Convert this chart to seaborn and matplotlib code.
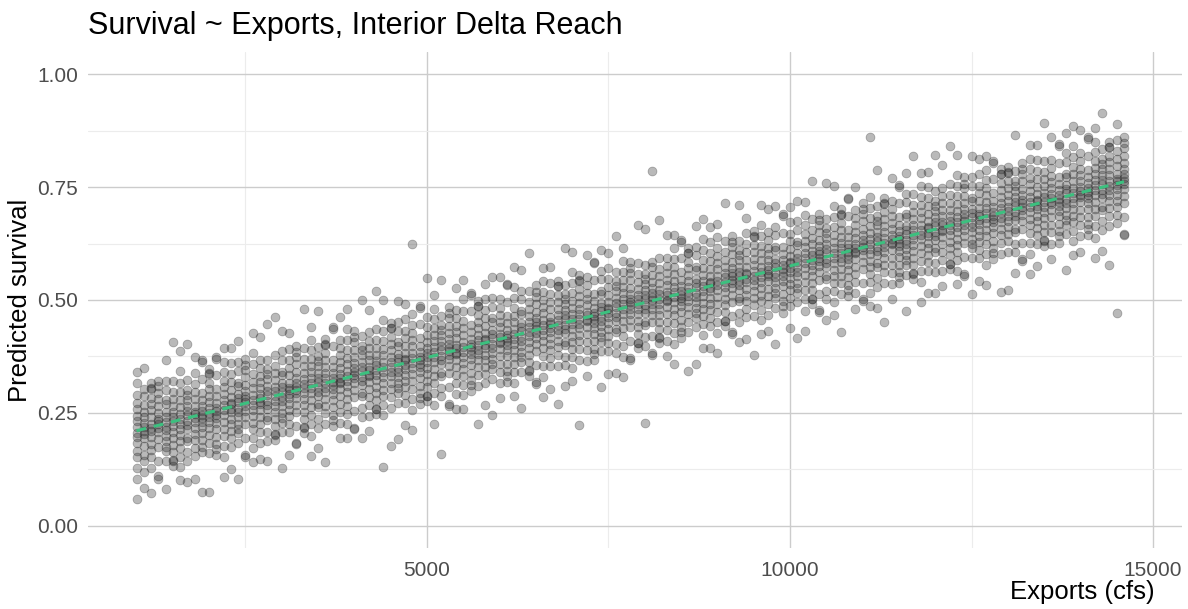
import matplotlib
matplotlib.use("Agg")
import pandas as pd
import matplotlib.pyplot as plt
import seaborn as sns
from matplotlib.ticker import FixedLocator, FormatStrFormatter

title = "Survival ~ Exports, Interior Delta Reach"
x_label = "Exports (cfs)"
y_label = "Predicted survival"
x_ticks = [5000, 10000, 15000]
x_minor = [2500, 7500, 12500]
y_ticks = [0.00, 0.25, 0.50, 0.75, 1.00]
y_minor = [0.125, 0.375, 0.625, 0.875]

survival_columns = [
    (1000, [58, 104, 127, 151, 166, 183, 196, 205, 218, 231, 243, 259, 272, 289, 316, 341]),
    (1100, [83, 119, 142, 157, 176, 194, 203, 210, 218, 228, 240, 251, 267, 286, 302, 349]),
    (1200, [72, 127, 153, 168, 181, 197, 209, 217, 226, 240, 256, 269, 282, 303, 317, 304]),
    (1300, [103, 109, 144, 173, 191, 207, 216, 226, 231, 237, 250, 265, 280, 294, 321, 309]),
    (1400, [82, 142, 165, 174, 187, 199, 212, 219, 230, 241, 252, 269, 300, 321, 367, 278]),
    (1500, [406, 321, 297, 280, 265, 251, 241, 231, 220, 208, 194, 179, 164, 145, 133, 144]),
    (1600, [386, 342, 317, 295, 278, 263, 248, 237, 226, 215, 201, 187, 172, 153, 130, 100]),
    (1700, [402, 322, 301, 290, 279, 265, 254, 245, 232, 223, 214, 195, 162, 143, 97, 188]),
    (1800, [373, 339, 314, 297, 280, 264, 251, 248, 238, 230, 216, 203, 189, 172, 154, 104]),
    (1900, [366, 362, 325, 294, 278, 264, 253, 245, 238, 230, 219, 206, 189, 173, 75, 162]),
    (2000, [75, 160, 184, 201, 216, 230, 240, 250, 261, 273, 287, 302, 317, 336, 348, 337]),
    (2100, [374, 370, 333, 302, 286, 272, 261, 253, 246, 238, 227, 214, 197, 181, 156, 170]),
    (2200, [107, 151, 176, 198, 215, 230, 245, 256, 267, 278, 292, 306, 321, 340, 363, 393]),
    (2300, [394, 360, 335, 318, 301, 285, 272, 269, 259, 251, 237, 224, 210, 193, 175, 125]),
    (2400, [103, 183, 204, 215, 226, 240, 251, 260, 273, 282, 291, 310, 343, 362, 408, 317]),
    (2500, [152, 156, 193, 224, 240, 254, 265, 273, 280, 288, 299, 312, 329, 345, 370, 356]),
    (2600, [427, 383, 358, 336, 319, 304, 289, 278, 267, 256, 242, 228, 213, 194, 171, 141]),
    (2700, [148, 182, 207, 224, 241, 257, 270, 273, 283, 291, 305, 318, 332, 349, 367, 417]),
    (2800, [447, 367, 346, 335, 324, 310, 299, 290, 277, 268, 259, 240, 207, 188, 142, 233]),
    (2900, [463, 378, 354, 337, 322, 308, 298, 288, 277, 265, 251, 236, 221, 202, 190, 201]),
    (3000, [127, 207, 228, 239, 250, 264, 275, 284, 297, 306, 315, 334, 367, 386, 432, 341]),
    (3100, [426, 392, 367, 350, 333, 317, 304, 301, 291, 283, 269, 256, 242, 225, 207, 157]),
    (3200, [180, 184, 221, 252, 268, 282, 293, 301, 308, 316, 327, 340, 357, 373, 398, 384]),
    (3300, [479, 394, 370, 353, 338, 324, 314, 304, 293, 281, 267, 252, 237, 218, 206, 217]),
    (3400, [155, 199, 224, 246, 263, 278, 293, 304, 315, 326, 340, 354, 369, 388, 411, 441]),
    (3500, [476, 396, 375, 364, 353, 339, 328, 319, 306, 297, 288, 269, 236, 217, 171, 262]),
    (3600, [140, 225, 249, 266, 281, 295, 305, 315, 326, 338, 352, 367, 382, 401, 413, 402]),
    (3700, [439, 435, 398, 367, 351, 337, 326, 318, 311, 303, 292, 279, 262, 246, 221, 235]),
    (3800, [193, 227, 252, 269, 286, 302, 315, 318, 328, 336, 350, 363, 377, 394, 412, 462]),
    (3900, [480, 436, 411, 389, 372, 357, 342, 331, 320, 309, 295, 281, 266, 247, 224, 194]),
    (4000, [213, 217, 254, 285, 301, 315, 326, 334, 341, 349, 360, 373, 390, 406, 431, 417]),
    (4100, [500, 420, 399, 388, 377, 363, 352, 343, 330, 321, 312, 293, 260, 241, 195, 286]),
    (4200, [209, 243, 268, 285, 302, 318, 331, 334, 344, 352, 366, 379, 393, 410, 428, 478]),
    (4300, [520, 435, 411, 394, 379, 365, 355, 345, 334, 322, 308, 293, 278, 259, 247, 258]),
    (4400, [500, 456, 431, 409, 392, 377, 362, 351, 340, 329, 315, 301, 286, 267, 244, 130]),
    (4500, [176, 261, 285, 302, 317, 331, 341, 351, 362, 374, 388, 403, 418, 437, 449, 438]),
    (4600, [192, 272, 293, 304, 315, 329, 340, 349, 362, 371, 380, 399, 432, 451, 497, 406]),
    (4700, [491, 457, 432, 415, 398, 382, 369, 366, 356, 348, 334, 321, 307, 290, 272, 222]),
    (4800, [212, 256, 281, 303, 320, 335, 350, 361, 372, 383, 397, 411, 426, 445, 468, 624]),
    (4900, [487, 483, 446, 415, 399, 385, 374, 366, 359, 351, 340, 327, 310, 294, 269, 283]),
    (5000, [548, 463, 439, 422, 407, 393, 383, 373, 362, 350, 336, 321, 306, 287, 275, 286]),
    (5100, [224, 268, 293, 315, 332, 347, 362, 373, 384, 395, 409, 423, 438, 457, 480, 510]),
    (5200, [545, 465, 444, 433, 422, 408, 397, 388, 375, 366, 357, 338, 305, 286, 158, 331]),
    (5300, [266, 270, 307, 338, 354, 368, 379, 387, 394, 402, 413, 426, 443, 459, 484, 470]),
    (5400, [258, 292, 317, 334, 351, 367, 380, 383, 393, 401, 415, 428, 442, 459, 477, 527]),
    (5500, [545, 501, 476, 454, 437, 422, 407, 396, 385, 374, 360, 346, 331, 312, 289, 259]),
    (5600, [516, 512, 475, 444, 428, 414, 403, 395, 388, 380, 369, 356, 339, 323, 298, 312]),
    (5700, [225, 310, 334, 351, 366, 380, 390, 400, 411, 423, 437, 452, 467, 486, 498, 487]),
    (5800, [536, 502, 477, 460, 443, 427, 414, 411, 401, 393, 379, 366, 352, 335, 317, 267]),
    (5900, [245, 325, 346, 357, 368, 382, 393, 402, 415, 424, 433, 452, 485, 504, 550, 459]),
    (6000, [282, 316, 341, 358, 375, 391, 404, 407, 417, 425, 439, 452, 466, 483, 501, 551]),
    (6100, [536, 532, 495, 464, 448, 434, 423, 415, 408, 400, 389, 376, 359, 343, 318, 332]),
    (6200, [573, 529, 504, 482, 465, 450, 435, 424, 413, 402, 388, 374, 359, 340, 317, 287]),
    (6300, [261, 341, 362, 373, 384, 398, 409, 418, 431, 440, 449, 468, 501, 520, 566, 475]),
    (6400, [605, 520, 496, 479, 464, 450, 440, 430, 419, 407, 393, 378, 363, 344, 332, 343]),
    (6500, [314, 318, 355, 386, 402, 416, 427, 435, 442, 450, 461, 474, 491, 507, 532, 518]),
    (6600, [285, 329, 354, 376, 393, 408, 423, 434, 445, 456, 470, 484, 499, 518, 541, 571]),
    (6700, [572, 538, 513, 496, 479, 463, 450, 447, 437, 429, 415, 402, 388, 371, 353, 303]),
    (6800, [269, 354, 378, 395, 410, 424, 434, 444, 455, 467, 481, 496, 511, 530, 542, 531]),
    (6900, [614, 534, 513, 502, 491, 477, 466, 457, 444, 435, 426, 407, 374, 355, 309, 400]),
    (7000, [606, 562, 537, 515, 498, 483, 468, 457, 446, 435, 421, 407, 392, 373, 350, 320]),
    (7100, [222, 367, 391, 408, 423, 437, 447, 457, 468, 480, 494, 509, 524, 543, 555, 544]),
    (7200, [331, 365, 390, 407, 424, 440, 453, 456, 466, 474, 488, 501, 515, 532, 550, 600]),
    (7300, [585, 581, 544, 513, 497, 483, 472, 464, 457, 449, 438, 425, 408, 392, 367, 381]),
    (7400, [306, 386, 407, 418, 429, 443, 454, 463, 476, 485, 494, 513, 546, 565, 611, 520]),
    (7500, [605, 571, 546, 529, 512, 496, 483, 480, 470, 462, 448, 435, 421, 404, 386, 336]),
    (7600, [642, 562, 541, 530, 519, 505, 494, 485, 472, 463, 454, 435, 402, 383, 337, 428]),
    (7700, [330, 374, 399, 421, 438, 453, 468, 479, 490, 501, 515, 529, 544, 563, 586, 616]),
    (7800, [367, 371, 408, 439, 455, 469, 480, 488, 495, 503, 514, 527, 544, 560, 585, 571]),
    (7900, [666, 581, 557, 540, 525, 511, 501, 491, 480, 468, 454, 439, 424, 405, 393, 404]),
    (8000, [658, 578, 557, 546, 535, 521, 510, 501, 488, 479, 470, 451, 418, 399, 228, 444]),
    (8100, [379, 383, 420, 451, 467, 481, 492, 500, 507, 515, 526, 539, 556, 572, 785, 583]),
    (8200, [678, 593, 569, 552, 537, 523, 513, 503, 492, 480, 466, 451, 436, 417, 405, 416]),
    (8300, [375, 409, 434, 451, 468, 484, 497, 500, 510, 518, 532, 545, 559, 576, 594, 644]),
    (8400, [358, 402, 427, 449, 466, 481, 496, 507, 518, 529, 543, 557, 572, 591, 614, 644]),
    (8500, [633, 629, 592, 561, 545, 531, 520, 512, 505, 497, 486, 473, 456, 440, 415, 429]),
    (8600, [343, 428, 452, 469, 484, 498, 508, 518, 529, 541, 555, 570, 585, 604, 616, 605]),
    (8700, [359, 439, 460, 471, 482, 496, 507, 516, 529, 538, 547, 566, 599, 618, 664, 573]),
    (8800, [679, 635, 610, 588, 571, 556, 541, 530, 519, 508, 494, 480, 465, 446, 423, 393]),
    (8900, [662, 628, 603, 586, 569, 553, 540, 537, 527, 519, 505, 492, 478, 461, 443, 393]),
    (9000, [383, 427, 452, 474, 491, 506, 521, 532, 543, 554, 568, 582, 597, 616, 639, 669]),
    (9100, [715, 630, 606, 589, 574, 560, 550, 540, 529, 517, 503, 488, 473, 454, 442, 453]),
    (9200, [424, 428, 465, 496, 512, 526, 537, 545, 552, 560, 571, 584, 601, 617, 642, 628]),
    (9300, [711, 631, 610, 599, 588, 574, 563, 554, 541, 532, 523, 504, 471, 452, 406, 497]),
    (9400, [682, 648, 623, 606, 589, 573, 560, 557, 547, 539, 525, 512, 498, 481, 463, 413]),
    (9500, [379, 464, 488, 505, 520, 534, 544, 554, 565, 577, 591, 606, 621, 640, 652, 641]),
    (9600, [711, 667, 642, 620, 603, 588, 573, 562, 551, 540, 526, 512, 497, 478, 455, 425]),
    (9700, [432, 466, 491, 508, 525, 541, 554, 557, 567, 575, 589, 602, 616, 633, 651, 701]),
    (9800, [403, 483, 504, 515, 526, 540, 551, 560, 573, 582, 591, 610, 643, 662, 708, 617]),
    (9900, [690, 686, 649, 618, 602, 588, 577, 569, 562, 554, 543, 530, 513, 497, 472, 486]),
    (10000, [706, 672, 647, 630, 613, 597, 584, 581, 571, 563, 549, 536, 522, 505, 487, 437]),
    (10100, [415, 495, 516, 527, 538, 552, 563, 572, 585, 594, 603, 622, 655, 674, 720, 629]),
    (10200, [432, 476, 501, 523, 540, 555, 570, 581, 592, 603, 617, 631, 646, 665, 688, 718]),
    (10300, [764, 679, 655, 638, 623, 609, 599, 589, 578, 566, 552, 537, 522, 503, 491, 502]),
    (10400, [473, 477, 514, 545, 561, 575, 586, 594, 601, 609, 620, 633, 650, 666, 691, 677]),
    (10500, [760, 680, 659, 648, 637, 623, 612, 603, 590, 581, 572, 553, 520, 501, 455, 546]),
    (10600, [752, 708, 683, 661, 644, 629, 614, 603, 592, 581, 567, 553, 538, 519, 496, 466]),
    (10700, [428, 513, 537, 554, 569, 583, 593, 603, 614, 626, 640, 655, 670, 689, 701, 690]),
    (10800, [727, 723, 686, 655, 639, 625, 614, 606, 599, 591, 580, 567, 550, 534, 509, 523]),
    (10900, [481, 515, 540, 557, 574, 590, 603, 606, 616, 624, 638, 651, 665, 682, 700, 750]),
    (11000, [497, 501, 538, 569, 585, 599, 610, 618, 625, 633, 644, 657, 674, 690, 715, 701]),
    (11100, [862, 728, 703, 681, 664, 649, 634, 623, 612, 601, 587, 573, 558, 539, 516, 486]),
    (11200, [788, 708, 687, 676, 665, 651, 640, 631, 618, 609, 600, 581, 548, 529, 483, 574]),
    (11300, [452, 537, 561, 578, 593, 607, 617, 627, 638, 650, 664, 679, 694, 713, 725, 714]),
    (11400, [501, 535, 560, 577, 594, 610, 623, 626, 636, 644, 658, 671, 685, 702, 720, 770]),
    (11500, [755, 751, 714, 683, 667, 653, 642, 634, 627, 619, 608, 595, 578, 562, 537, 551]),
    (11600, [476, 556, 577, 588, 599, 613, 624, 633, 646, 655, 664, 683, 716, 735, 781, 690]),
    (11700, [820, 735, 711, 694, 679, 665, 655, 645, 634, 622, 608, 593, 578, 559, 547, 558]),
    (11800, [496, 540, 565, 587, 604, 619, 634, 645, 656, 667, 681, 695, 710, 729, 752, 782]),
    (11900, [784, 750, 725, 708, 691, 675, 662, 659, 649, 641, 627, 614, 600, 583, 565, 515]),
    (12000, [821, 741, 720, 709, 698, 684, 673, 664, 651, 642, 633, 614, 581, 562, 516, 607]),
    (12100, [530, 564, 589, 606, 623, 639, 652, 655, 665, 673, 687, 700, 714, 731, 749, 799]),
    (12200, [841, 756, 732, 715, 700, 686, 676, 666, 655, 643, 629, 614, 599, 580, 568, 579]),
    (12300, [821, 777, 752, 730, 713, 698, 683, 672, 661, 650, 636, 622, 607, 588, 565, 535]),
    (12400, [554, 558, 595, 626, 642, 656, 667, 675, 682, 690, 701, 714, 731, 747, 772, 758]),
    (12500, [513, 593, 614, 625, 636, 650, 661, 670, 683, 692, 701, 720, 753, 772, 818, 727]),
    (12600, [812, 778, 753, 736, 719, 703, 690, 687, 677, 669, 655, 642, 628, 611, 593, 543]),
    (12700, [533, 577, 602, 624, 641, 656, 671, 682, 693, 704, 718, 732, 747, 766, 789, 819]),
    (12800, [808, 804, 767, 736, 720, 706, 695, 687, 680, 672, 661, 648, 631, 615, 590, 604]),
    (12900, [517, 602, 626, 643, 658, 672, 682, 692, 703, 715, 729, 744, 759, 778, 790, 779]),
    (13000, [521, 606, 630, 647, 662, 676, 686, 696, 707, 719, 733, 748, 763, 782, 794, 783]),
    (13100, [865, 785, 764, 753, 742, 728, 717, 708, 695, 686, 677, 658, 625, 606, 560, 651]),
    (13200, [586, 590, 627, 658, 674, 688, 699, 707, 714, 722, 733, 746, 763, 779, 804, 790]),
    (13300, [557, 601, 626, 648, 665, 680, 695, 706, 717, 728, 742, 756, 771, 790, 813, 843]),
    (13400, [844, 810, 785, 768, 751, 735, 722, 719, 709, 701, 687, 674, 660, 643, 625, 575]),
    (13500, [893, 808, 784, 767, 752, 738, 728, 718, 707, 695, 681, 666, 651, 632, 620, 631]),
    (13600, [591, 625, 650, 667, 684, 700, 713, 716, 726, 734, 748, 761, 775, 792, 810, 860]),
    (13700, [845, 841, 804, 773, 757, 743, 732, 724, 717, 709, 698, 685, 668, 652, 627, 641]),
    (13800, [566, 646, 667, 678, 689, 703, 714, 723, 736, 745, 754, 773, 806, 825, 871, 780]),
    (13900, [886, 842, 817, 795, 778, 763, 748, 737, 726, 715, 701, 687, 672, 653, 630, 600]),
    (14000, [607, 641, 666, 683, 700, 716, 729, 732, 742, 750, 764, 777, 791, 808, 826, 876]),
    (14100, [861, 857, 820, 789, 773, 759, 748, 740, 733, 725, 714, 701, 684, 668, 643, 657]),
    (14200, [594, 638, 663, 685, 702, 717, 732, 743, 754, 765, 779, 793, 808, 827, 850, 880]),
    (14300, [914, 834, 813, 802, 791, 777, 766, 757, 744, 735, 726, 707, 674, 655, 609, 700]),
    (14400, [578, 663, 687, 704, 719, 733, 743, 753, 764, 776, 790, 805, 820, 839, 851, 840]),
    (14500, [889, 855, 830, 813, 796, 780, 767, 764, 754, 746, 732, 719, 705, 688, 670, 472]),
    (14600, [643, 647, 684, 715, 731, 745, 756, 764, 771, 779, 790, 803, 820, 836, 861, 847]),
]

rows = [(x, v / 1000) for x, vals in survival_columns for v in vals]
df = pd.DataFrame(rows, columns=["exports", "survival"])

sns.set_theme(style="white")
plt.rcParams["font.family"] = ["Liberation Sans", "DejaVu Sans"]

fig = plt.figure(figsize=(11.88, 6.09), dpi=100)
ax = fig.add_axes([0.074, 0.100, 0.921, 0.815])

# grey translucent points, the ring from the outline mimics ggplot's stroked dots
sns.scatterplot(data=df, x="exports", y="survival", color="#262626", edgecolor="#262626",
                alpha=0.32, s=40, linewidth=0.6, ax=ax, zorder=2)
sns.regplot(data=df, x="exports", y="survival", scatter=False, ci=None, ax=ax,
            line_kws=dict(color="#3cc07f", lw=2.2, ls=(0, (3.2, 2.6)), zorder=3))

ax.set_xlim(330, 15400)
ax.set_ylim(-0.05, 1.05)
ax.xaxis.set_major_locator(FixedLocator(x_ticks))
ax.xaxis.set_minor_locator(FixedLocator(x_minor))
ax.yaxis.set_major_locator(FixedLocator(y_ticks))
ax.yaxis.set_minor_locator(FixedLocator(y_minor))
ax.yaxis.set_major_formatter(FormatStrFormatter("%.2f"))
ax.grid(which="major", color="#cccccc", lw=1.0)
ax.grid(which="minor", color="#ececec", lw=0.8)
ax.set_axisbelow(True)
ax.tick_params(which="both", length=0, labelsize=15, labelcolor="#4d4d4d")
ax.tick_params(axis="y", pad=7)
ax.tick_params(axis="x", pad=9)
for sp in ax.spines.values():
    sp.set_visible(False)
ax.set_xlabel("")
ax.set_ylabel("")

fig.text(0.074, 1 - 34 / 609, title, fontsize=22, ha="left", va="baseline", color="black")
fig.text(1155 / 1188, 1 - 592 / 609, x_label, fontsize=18.5, ha="right", va="center", color="black")
fig.text(20 / 1188, 1 - 300 / 609, y_label, fontsize=18.5, ha="center", va="center",
         rotation=90, color="black")

fig.savefig("out.png", dpi=100)
